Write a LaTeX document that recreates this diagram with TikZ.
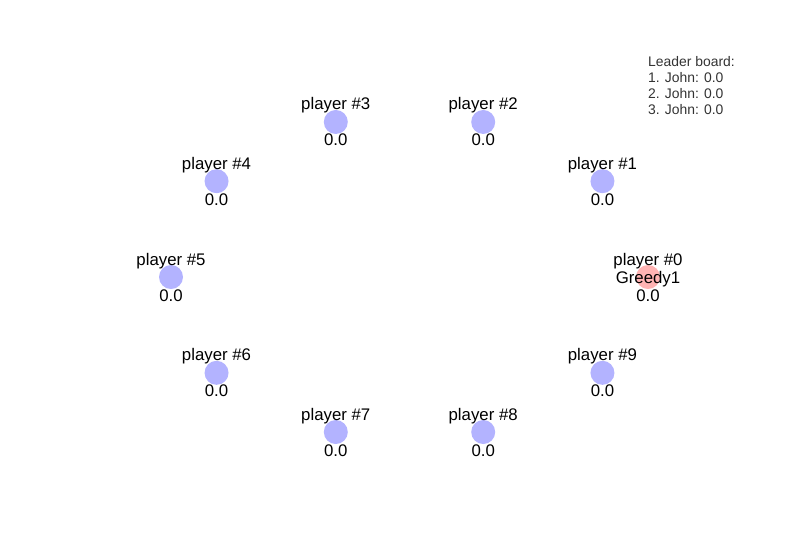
\documentclass[tikz,border=0pt]{standalone}
\usepackage{fontspec}
\setmainfont{Liberation Sans}
\usetikzlibrary{positioning}
\definecolor{playerblue}{RGB}{179,179,255}
\definecolor{playerpink}{RGB}{255,179,179}
\definecolor{boardgray}{RGB}{51,51,51}

\begin{document}
\begin{tikzpicture}[
    x=1pt, y=-1pt,
    playerdot/.style={
        circle,
        draw=none,
        fill=playerblue,
        inner sep=0pt,
        minimum size=24pt},
    playerlabel/.style={
        align=center,
        inner sep=0pt,
        font=\fontsize{16.8}{18}\selectfont},
    boardtext/.style={
        align=left,
        inner sep=0pt,
        text=boardgray,
        font=\fontsize{13.9}{16}\selectfont}
    ]
    \useasboundingbox (0,0) rectangle (800,550);

    % player 0 is the greedy one
    \node[playerdot,fill=playerpink] (p0) at (409.5+238.5,277) {};
    \node[playerlabel] (l0) at (p0) {player \#0\\Greedy1\\0.0};

    \foreach \i in {1,...,9}{% players around the ring
        \node[playerdot] (p\i) at ({409.5+238.5*cos(36*\i)},{277-163*sin(36*\i)}) {};
        \node[playerlabel] (l\i) at (p\i) {player \#\i\\\mbox{}\\0.0};
    }

    \node[boardtext,anchor=north west] (board) at (648,56)
        {Leader board:\\1. John: 0.0\\2. John: 0.0\\3. John: 0.0};
\end{tikzpicture}
\end{document}
